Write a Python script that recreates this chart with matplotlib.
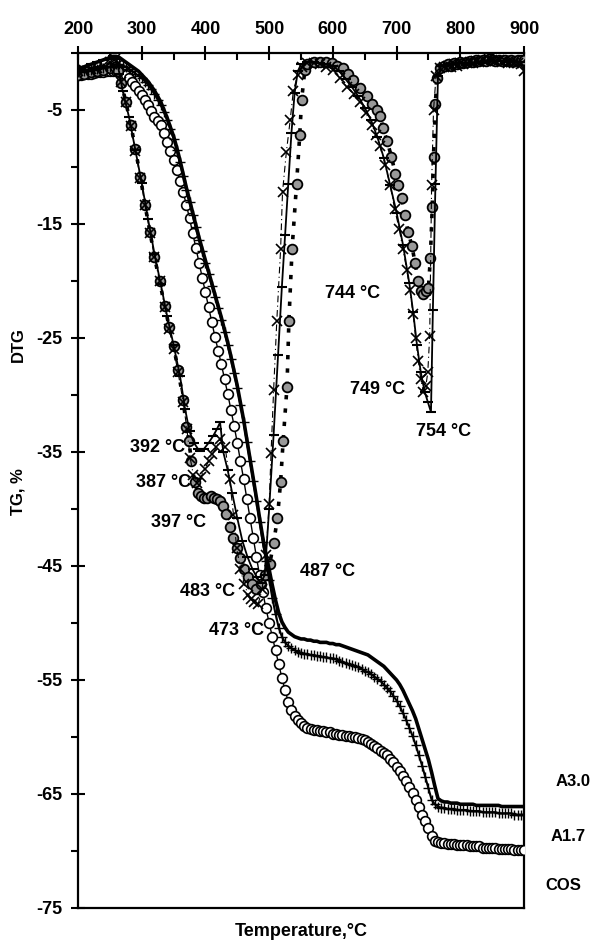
import numpy as np
import matplotlib
matplotlib.use("Agg")
import matplotlib.pyplot as plt

plt.rcParams['font.family'] = ['Liberation Sans', 'DejaVu Sans']
plt.rcParams['font.weight'] = 'bold'
plt.rcParams['axes.unicode_minus'] = False
FS = 13

# ---- TG curves, every 5 degC from 200 to 900 ----
tg_temp = np.arange(200, 905, 5)

tg_a30 = [-1.4, -1.3, -1.2, -1.1, -1.0, -0.9, -0.8, -0.7, -0.6, -0.5, -0.4, -0.3,
          -0.3, -0.4, -0.6, -0.8, -1.0, -1.2, -1.4, -1.6,
          -1.9, -2.2, -2.5, -2.9, -3.3, -3.8, -4.3, -5.0, -5.7, -6.5,
          -7.3, -8.3, -9.4, -10.6, -11.8, -12.9, -14.0, -15.1, -16.2, -17.2,
          -18.2, -19.2, -20.2, -21.2, -22.2, -23.2, -24.3, -25.4, -26.6, -27.9,
          -29.2, -30.7, -32.2, -33.9, -35.6, -37.3, -39.0, -40.8, -42.5, -44.0,
          -45.3, -46.7, -48.0, -49.1, -49.9, -50.4, -50.8, -51.0, -51.2, -51.3,
          -51.4, -51.4, -51.5, -51.5, -51.6, -51.6, -51.7, -51.7, -51.7, -51.8,
          -51.8, -51.9, -51.9, -52.0, -52.1, -52.2, -52.3, -52.4, -52.5, -52.6,
          -52.7, -52.8, -53.0, -53.2, -53.4, -53.6, -53.8, -54.1, -54.4, -54.7,
          -55.0, -55.4, -55.9, -56.5, -57.1, -57.7, -58.4, -59.3, -60.2, -61.1,
          -62.0, -63.1, -64.3, -65.4, -65.6, -65.7, -65.7, -65.8, -65.8, -65.8,
          -65.9, -65.9, -65.9, -65.9, -65.9, -66.0, -66.0, -66.0, -66.0, -66.0,
          -66.0, -66.0, -66.0, -66.1, -66.1, -66.1, -66.1, -66.1, -66.1, -66.1, -66.1]

tg_a17 = [-1.7, -1.65, -1.6, -1.55, -1.5, -1.45, -1.4, -1.35, -1.3, -1.25, -1.2, -1.1,
          -1.0, -1.0, -1.1, -1.2, -1.4, -1.6, -1.8, -2.0,
          -2.2, -2.5, -2.8, -3.2, -3.6, -4.1, -4.6, -5.2, -5.9, -6.7,
          -7.5, -8.5, -9.6, -10.8, -12.0, -13.1, -14.2, -15.3, -16.4, -17.4,
          -18.4, -19.4, -20.4, -21.4, -22.4, -23.4, -24.5, -25.6, -26.8, -28.1,
          -29.4, -30.9, -32.4, -34.1, -35.8, -37.5, -39.3, -41.1, -42.9, -44.6,
          -46.2, -47.8, -49.2, -50.4, -51.2, -51.7, -52.0, -52.2, -52.4, -52.5,
          -52.6, -52.7, -52.7, -52.8, -52.8, -52.9, -52.9, -53.0, -53.0, -53.1,
          -53.1, -53.2, -53.3, -53.4, -53.5, -53.6, -53.7, -53.8, -53.9, -54.0,
          -54.2, -54.3, -54.5, -54.7, -54.9, -55.1, -55.4, -55.7, -56.0, -56.4,
          -56.8, -57.3, -57.9, -58.5, -59.2, -59.9, -60.7, -61.6, -62.5, -63.5,
          -64.5, -65.5, -65.9, -66.1, -66.2, -66.2, -66.3, -66.3, -66.3, -66.4,
          -66.4, -66.4, -66.4, -66.5, -66.5, -66.5, -66.5, -66.6, -66.6, -66.6,
          -66.6, -66.6, -66.7, -66.7, -66.7, -66.7, -66.7, -66.8, -66.8, -66.8, -66.8]

tg_cos = [-1.9, -1.9, -1.85, -1.8, -1.8, -1.75, -1.7, -1.7, -1.65, -1.6, -1.6, -1.6,
          -1.6, -1.7, -1.8, -1.9, -2.2, -2.5, -2.9, -3.3,
          -3.7, -4.1, -4.6, -5.1, -5.6, -6.0, -6.3, -7.0, -7.8, -8.6,
          -9.4, -10.3, -11.2, -12.2, -13.3, -14.5, -15.8, -17.1, -18.4, -19.7,
          -21.0, -22.3, -23.6, -24.9, -26.1, -27.3, -28.6, -29.9, -31.3, -32.7,
          -34.2, -35.8, -37.4, -39.1, -40.8, -42.5, -44.2, -45.8, -47.3, -48.7,
          -50.0, -51.2, -52.4, -53.6, -54.8, -55.9, -56.9, -57.6, -58.2, -58.5,
          -58.8, -59.0, -59.2, -59.3, -59.4, -59.4, -59.5, -59.5, -59.6, -59.6,
          -59.7, -59.7, -59.8, -59.8, -59.9, -59.9, -60.0, -60.0, -60.1, -60.2,
          -60.3, -60.4, -60.6, -60.8, -61.0, -61.2, -61.4, -61.6, -61.9, -62.2,
          -62.6, -63.0, -63.4, -63.9, -64.4, -64.9, -65.5, -66.1, -66.8, -67.4,
          -68.0, -68.7, -69.1, -69.2, -69.3, -69.3, -69.4, -69.4, -69.4, -69.5,
          -69.5, -69.5, -69.5, -69.6, -69.6, -69.6, -69.6, -69.7, -69.7, -69.7,
          -69.7, -69.7, -69.8, -69.8, -69.8, -69.8, -69.8, -69.9, -69.9, -69.9, -69.9]

# ---- DTG curves (drawn on the same scale) ----
dtg_a30_t = [200, 210, 220, 230, 240, 250, 255, 260, 265, 270, 280, 290, 300, 310, 320,
             330, 340, 350, 360, 368, 375, 382, 388, 392, 398, 405, 412, 418, 423, 428,
             435, 442, 450, 458, 466, 474, 481, 487, 493, 500, 507, 514, 520, 525, 530,
             535, 540, 545, 550, 560, 570, 580, 590, 600, 610, 620, 630, 640, 650, 660,
             670, 680, 690, 700, 710, 720, 726, 732, 738, 744, 749, 754, 757, 761, 765,
             770, 780, 790, 800, 810, 820, 830, 840, 850, 860, 870, 880, 890, 900]
dtg_a30 = [-1.4, -1.2, -1.0, -0.8, -0.6, -0.4, -0.3, -0.5, -1.8, -3.3, -5.6, -8.5, -11.4, -14.6, -17.6,
           -20.3, -23.1, -25.6, -28.3, -31.2, -33.2, -34.2, -34.7, -34.9, -34.7, -34.2, -33.6, -33.0, -32.4, -35.0,
           -36.6, -38.6, -40.8, -42.8, -44.2, -45.3, -46.0, -46.5, -45.8, -40.0, -33.5, -26.5, -20.5, -16.0, -11.5,
           -7.0, -3.5, -1.6, -1.0, -0.8, -0.8, -0.9, -1.0, -1.1, -1.6, -2.3, -3.0, -3.8, -4.8, -5.9,
           -7.4, -9.2, -11.6, -14.0, -16.8, -20.2, -22.7, -25.6, -28.0, -29.7, -30.6, -31.5, -22.5, -11.5, -2.0,
           -1.1, -1.0, -1.0, -0.9, -1.0, -0.9, -0.8, -0.8, -0.7, -0.7, -0.8, -0.7, -0.8, -0.8]

dtg_a17_t = [200, 210, 220, 230, 240, 250, 258, 263, 268, 275, 283, 290, 298, 305, 313,
             320, 328, 336, 343, 350, 357, 365, 371, 376, 381, 387, 393, 399, 405, 411,
             417, 423, 431, 438, 444, 449, 455, 461, 467, 472, 477, 483, 489, 495, 500,
             503, 507, 512, 518, 521, 527, 533, 538, 545, 552, 560, 570, 580, 590, 600,
             611, 622, 633, 643, 652, 661, 668, 674, 682, 690, 697, 704, 710, 716, 721,
             726, 730, 734, 738, 742, 746, 749, 752, 755, 758, 762, 768, 775, 780, 785,
             790, 795, 800, 805, 810, 815, 820, 825, 830, 835, 840, 845, 850, 855, 860,
             865, 870, 875, 880, 885, 890, 895, 900]
dtg_a17 = [-1.6, -1.5, -1.4, -1.3, -1.1, -0.8, -0.5, -1.0, -2.5, -4.3, -6.4, -8.6, -11.0, -13.3, -15.8,
           -17.9, -20.0, -22.3, -24.2, -26.0, -28.0, -30.6, -33.0, -35.5, -37.0, -37.7, -37.2, -36.5, -35.8, -35.2,
           -34.6, -33.9, -34.6, -37.4, -40.5, -43.4, -45.3, -46.6, -47.5, -47.9, -48.2, -48.3, -47.0, -44.0, -39.6,
           -35.1, -29.6, -23.5, -17.2, -12.2, -8.7, -5.9, -3.3, -1.9, -1.2, -0.9, -0.9, -1.0, -1.2, -1.5,
           -2.2, -3.0, -3.6, -4.3, -5.3, -6.3, -7.2, -8.2, -9.8, -11.6, -13.7, -15.4, -17.2, -19.0, -20.8,
           -22.9, -25.0, -27.0, -28.6, -29.7, -29.2, -28.0, -24.8, -11.6, -5.0, -2.0, -1.3, -1.2, -1.1, -1.2,
           -1.0, -1.1, -0.9, -1.0, -0.9, -0.8, -0.9, -0.7, -0.8, -0.6, -0.7, -0.5, -0.6, -0.7, -0.6,
           -0.8, -0.7, -0.9, -0.8, -0.9, -0.9, -1.0, -1.6]

dtg_cos_t = [200, 210, 220, 230, 240, 250, 258, 263, 268, 275, 283, 290, 298, 305, 313,
             320, 328, 336, 343, 350, 357, 365, 370, 374, 378, 383, 388, 393, 398, 403,
             408, 413, 418, 423, 428, 433, 438, 443, 449, 455, 461, 467, 473, 480, 487,
             494, 501, 507, 513, 518, 522, 528, 531, 536, 543, 548, 551, 556, 560, 570,
             580, 590, 598, 607, 616, 624, 632, 642, 653, 662, 669, 674, 679, 685, 692,
             698, 703, 708, 713, 718, 724, 729, 734, 739, 742, 746, 750, 753, 756, 758,
             761, 763, 768, 775, 780, 785, 790, 795, 800, 805, 810, 815, 820, 825, 830,
             835, 840, 845, 850, 855, 860, 865, 870, 875, 880, 885, 890, 895, 900]
dtg_cos = [-1.9, -1.8, -1.7, -1.6, -1.5, -1.3, -1.2, -1.6, -2.6, -4.3, -6.3, -8.4, -10.9, -13.3, -15.7,
           -17.9, -20.0, -22.2, -24.0, -25.7, -27.8, -30.4, -32.8, -34.0, -35.8, -37.6, -38.6, -38.9, -39.0, -39.0,
           -38.9, -39.0, -39.1, -39.3, -39.7, -40.4, -41.6, -42.5, -43.4, -44.3, -45.3, -46.0, -46.6, -47.0, -46.6,
           -45.8, -44.8, -43.0, -40.8, -37.6, -34.0, -29.3, -23.5, -17.2, -11.5, -7.2, -4.1, -1.5, -1.0, -0.8,
           -0.8, -0.8, -0.9, -1.1, -1.3, -1.8, -2.4, -3.1, -3.8, -4.5, -5.0, -5.5, -6.6, -7.7, -9.1,
           -10.6, -11.6, -12.7, -14.2, -15.7, -16.9, -18.4, -20.0, -20.9, -21.1, -20.9, -20.6, -18.0, -13.5, -9.1,
           -4.5, -2.2, -1.3, -1.1, -1.0, -1.1, -0.9, -1.0, -0.8, -0.9, -0.8, -0.7, -0.8, -0.6, -0.7,
           -0.6, -0.7, -0.5, -0.6, -0.7, -0.6, -0.7, -0.6, -0.7, -0.6, -0.7, -0.6, -0.6, -0.6]

# peak labels: text, x, y (left edge of text)
peak_labels = [("392 °C", 282, -34.6), ("387 °C", 291, -37.7), ("397 °C", 314, -41.2),
               ("483 °C", 360, -47.2), ("473 °C", 405, -50.7), ("487 °C", 549, -45.5),
               ("744 °C", 588, -21.1), ("749 °C", 627, -29.5), ("754 °C", 731, -33.2)]
series_labels = [("A3.0", 949, -63.9), ("A1.7", 941, -68.7), ("COS", 934, -73.0)]

fig = plt.figure(figsize=(5.97, 9.43), dpi=100)
ax = fig.add_axes([78 / 597, 1 - 908 / 943, 446 / 597, 855 / 943])

# TG
ax.plot(tg_temp, tg_cos, color='black', lw=1.0, marker='o', ms=7, mfc='white',
        mec='black', mew=1.2, zorder=3)
ax.plot(tg_temp, tg_a17, color='black', lw=1.5, marker='+', ms=7, mew=1.0, zorder=4)
ax.plot(tg_temp, tg_a30, color='black', lw=2.6, zorder=5)

# DTG
ax.plot(dtg_cos_t, dtg_cos, color='black', lw=2.6, ls=(0, (1.2, 2.5)), zorder=3)
ax.plot(dtg_cos_t, dtg_cos, ls='none', marker='o', ms=7, mfc='0.6', mec='black',
        mew=1.3, zorder=3)
ax.plot(dtg_a17_t, dtg_a17, color='black', lw=0.8, ls=(0, (6, 3, 1, 3)),
        marker='x', ms=7, mew=1.2, zorder=4)
ax.plot(dtg_a30_t, dtg_a30, color='black', lw=1.3, marker='_', ms=7, mew=1.5, zorder=5)

for txt, x, y in peak_labels:
    ax.text(x, y, txt, fontsize=FS, fontweight='bold', ha='left', va='center', zorder=6)
for txt, x, y in series_labels:
    ax.text(x, y, txt, fontsize=FS - 1, fontweight='bold', ha='left', va='center',
            clip_on=False)

ax.set_xlim(200, 900)
ax.set_ylim(-75, 0)
ax.xaxis.tick_top()
ax.set_xticks(np.arange(200, 901, 100))
ax.set_xticks(np.arange(250, 900, 100), minor=True)
ax.set_yticks(np.arange(-75, 0, 10))
ax.set_yticks(np.arange(-70, 1, 10), minor=True)
ax.tick_params(axis='x', which='major', direction='inout', length=10, width=1.5,
               labelsize=FS, pad=6)
ax.tick_params(axis='x', which='minor', direction='in', length=5, width=1.5)
ax.tick_params(axis='y', which='major', direction='inout', length=10, width=1.5,
               labelsize=FS, pad=6)
ax.tick_params(axis='y', which='minor', direction='out', length=5, width=1.5)
for lab in ax.get_xticklabels() + ax.get_yticklabels():
    lab.set_fontweight('bold')
for s in ax.spines.values():
    s.set_linewidth(1.6)

ax.text(0.5, -0.027, "Temperature,°C", transform=ax.transAxes, fontsize=FS,
        fontweight='bold', ha='center', va='center')
fig.text(0.03, 1 - 345 / 943, "DTG", rotation=90, fontsize=FS - 1, fontweight='bold',
         ha='center', va='center')
fig.text(0.03, 1 - 492 / 943, "TG, %", rotation=90, fontsize=FS - 1, fontweight='bold',
         ha='center', va='center')

fig.savefig("out.png", dpi=100)
